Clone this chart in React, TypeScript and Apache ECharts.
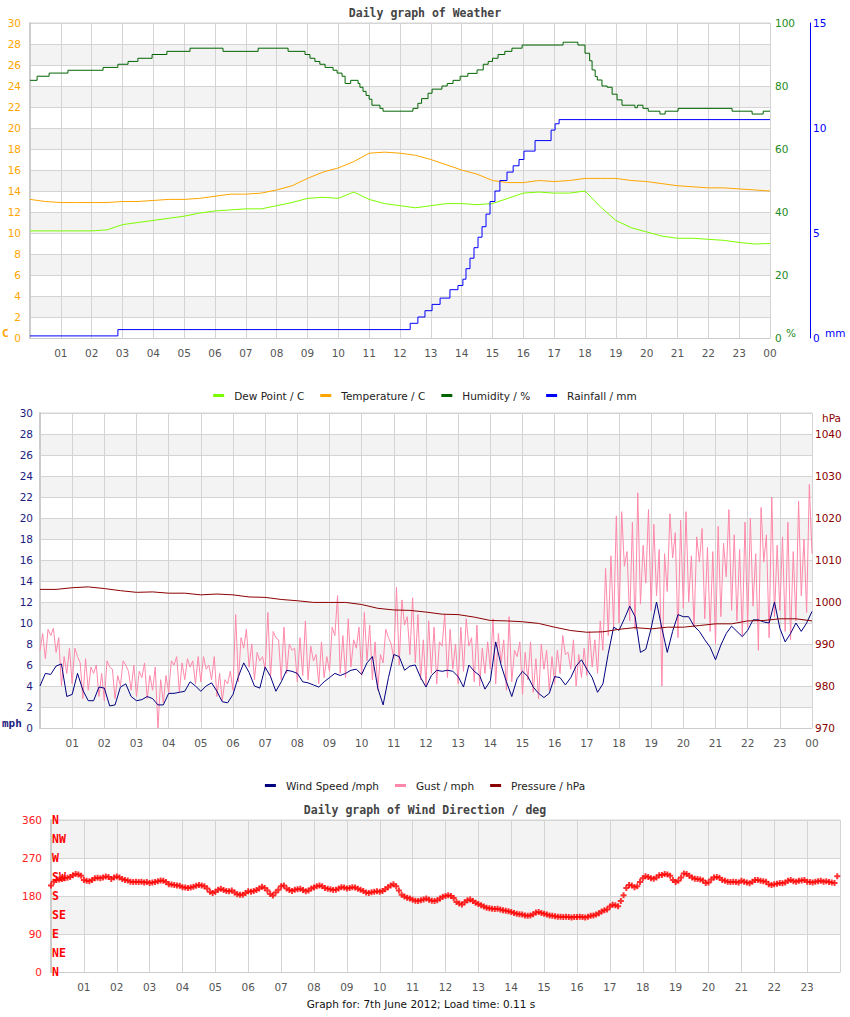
import React, { useEffect, useRef } from 'react';
import * as echarts from 'echarts';

// ---------- tick labels ----------
const HOUR_LABELS = ['01','02','03','04','05','06','07','08','09','10','11','12','13','14','15','16','17','18','19','20','21','22','23'];
const COMPASS = ['N','NE','E','SE','S','SW','W','NW','N'];

// ---------- panel 1 : weather (half-hour samples, 0..24h) ----------
const temperatureC = [13.2,13.0,12.9,12.9,12.9,12.9,13.0,13.0,13.1,13.2,13.2,13.3,13.5,13.7,13.7,13.8,14.1,14.5,15.2,15.8,16.2,16.8,17.6,17.7,17.6,17.4,17.0,16.5,16.0,15.6,15.0,14.8,14.8,15.0,14.9,15.0,15.2,15.2,15.2,15.0,14.9,14.7,14.5,14.4,14.3,14.3,14.2,14.1,14.0];
const dewPointC = [10.2,10.2,10.2,10.2,10.2,10.3,10.8,11.0,11.2,11.4,11.6,11.9,12.1,12.2,12.3,12.3,12.6,12.9,13.3,13.4,13.3,13.9,13.2,12.8,12.6,12.4,12.6,12.8,12.8,12.7,12.8,13.3,13.8,13.9,13.8,13.8,14.0,12.5,11.2,10.5,10.1,9.7,9.5,9.5,9.4,9.3,9.1,8.95,9.0];
// humidity: [hour of change, value]
const humiditySteps = [[0,81.8],[0.23,83.1],[0.62,84.1],[1.23,85.0],[2.37,85.9],[2.85,86.9],[3.18,87.8],[3.5,88.8],[3.96,90.0],[4.44,91.0],[5.19,92.0],[6.26,91.0],[7.4,92.0],[8.37,91.0],[8.92,90.0],[9.08,88.8],[9.24,87.8],[9.4,86.9],[9.57,85.9],[9.83,85.0],[9.96,84.1],[10.12,83.1],[10.22,80.8],[10.4,81.8],[10.64,80.8],[10.7,79.6],[10.8,78.3],[10.9,77.0],[11.0,75.8],[11.09,73.9],[11.35,72.9],[11.45,72.0],[12.42,72.9],[12.58,74.5],[12.7,76.0],[12.91,77.7],[13.04,79.0],[13.36,80.0],[13.53,80.8],[13.72,81.8],[13.95,83.1],[14.2,84.0],[14.5,85.1],[14.7,86.9],[14.86,87.8],[15.0,88.8],[15.18,90.0],[15.4,91.0],[15.63,92.0],[15.96,93.0],[17.29,93.9],[17.77,93.0],[18.0,90.4],[18.15,88.0],[18.23,85.1],[18.33,83.0],[18.4,81.9],[18.55,80.0],[18.72,79.6],[18.88,77.4],[19.04,75.6],[19.2,73.9],[19.62,73.1],[19.7,73.9],[19.88,72.9],[20.05,72.0],[20.43,71.1],[20.6,72.0],[21.02,72.9],[22.77,72.0],[23.42,71.1],[23.78,72.0],[24,72.0]];
// rainfall: [hour of change, cumulative mm]
const rainfallSteps = [[0,0.1],[2.85,0.4],[12.33,0.7],[12.58,1.0],[12.81,1.3],[13.04,1.6],[13.3,1.9],[13.62,2.3],[13.88,2.5],[14.04,2.8],[14.14,3.3],[14.27,3.8],[14.4,4.3],[14.53,4.8],[14.66,5.3],[14.79,5.9],[14.92,6.5],[15.08,7.0],[15.24,7.5],[15.47,7.9],[15.67,8.2],[15.86,8.5],[16.02,8.9],[16.38,9.4],[16.9,9.9],[17.03,10.2],[17.16,10.4],[24,10.4]];

// ---------- panel 2 : wind (10-min), gust (5-min), pressure (half-hour) ----------
const windMph = [4.0,5.2,5.1,5.9,6.1,3.0,3.2,5.2,3.6,2.6,2.6,3.9,3.8,2.1,2.2,3.9,4.2,3.0,2.6,2.7,3.0,2.8,2.2,2.2,3.3,3.3,3.4,3.5,4.4,4.0,3.5,4.0,4.3,3.5,2.5,2.4,3.2,4.9,6.2,5.3,4.0,3.8,5.8,4.9,3.5,4.4,5.5,5.4,5.2,4.4,4.3,4.1,3.9,4.4,4.8,5.2,5.0,5.2,5.5,5.6,5.1,6.2,6.8,3.8,2.2,4.8,7.0,6.8,5.5,5.9,6.0,4.8,
  3.9,5.0,5.5,5.4,5.5,5.4,4.9,3.9,6.0,5.4,5.0,3.7,4.5,8.2,6.0,4.4,3.0,4.7,5.4,4.9,3.9,3.3,2.9,3.3,4.9,4.8,4.1,4.8,5.9,6.5,5.6,4.8,3.4,4.2,7.1,9.6,9.3,10.4,11.6,10.6,7.2,7.5,9.5,12.0,9.5,7.2,9.2,10.8,10.6,10.6,9.7,9.2,8.4,7.7,6.5,7.9,9.0,9.7,9.2,8.7,9.3,10.3,10.3,10.1,10.0,12.0,9.5,8.2,9.0,10.0,9.2,10.0,11.1];
const gustMph = [
  7.4,9.0,6.6,9.4,8.8,9.5,7.2,8.6,4.0,6.8,5.2,7.6,
  4.2,7.6,6.8,6.2,2.8,6.6,3.6,5.8,5.2,6.0,3.0,5.2,
  2.6,6.4,5.8,5.6,2.8,5.0,4.0,6.4,6.0,5.4,3.6,6.0,
  3.0,5.4,4.8,6.2,2.8,5.0,3.6,5.8,0.0,4.6,2.4,5.0,
  3.4,6.4,6.0,6.8,3.4,6.2,4.6,6.6,5.8,6.4,4.2,6.8,
  4.4,6.8,5.6,6.0,4.6,6.8,3.0,5.2,2.6,4.6,4.2,5.4,
  3.6,10.8,4.4,8.6,7.6,9.4,5.8,8.0,4.6,7.2,6.4,6.8,
  5.6,11.0,4.8,9.2,8.6,8.4,4.6,9.6,5.2,8.0,7.4,7.6,
  4.4,8.6,5.0,10.2,4.6,7.8,6.4,7.0,4.2,8.2,4.8,6.8,
  5.4,9.6,8.8,12.6,5.2,8.8,4.8,10.4,5.8,8.4,7.6,9.6,
  5.0,11.0,6.4,9.8,4.6,8.2,3.6,7.0,6.2,9.4,8.6,8.0,
  6.6,13.4,6.0,12.2,9.8,10.6,7.0,12.4,6.2,10.8,4.6,8.4,
  4.0,10.2,5.2,9.6,4.2,8.2,7.8,10.8,4.8,9.4,5.6,8.0,
  4.2,9.6,5.4,10.4,7.8,8.6,4.4,9.8,4.0,7.6,5.2,8.2,
  5.6,10.4,4.2,9.0,6.2,8.4,3.6,10.6,4.4,7.4,6.8,8.2,
  3.2,7.2,4.6,8.2,3.4,6.6,2.8,8.0,5.6,7.4,3.6,6.8,
  4.2,7.4,5.2,8.8,7.0,7.2,5.6,8.4,4.0,7.0,4.8,7.6,
  5.0,9.2,5.8,8.4,5.2,10.2,7.4,15.2,8.8,16.4,9.6,20.2,
  10.0,20.6,15.4,16.8,10.2,19.6,9.4,22.4,11.8,17.4,13.8,20.8,
  11.2,19.4,12.6,17.0,4.0,16.6,13.0,20.4,16.2,18.6,8.6,19.8,
  11.4,20.6,12.0,16.4,9.6,18.2,15.8,19.0,10.4,17.2,9.2,16.8,
  8.0,19.2,10.6,17.6,14.4,20.8,11.2,18.4,10.2,17.0,8.8,19.6,
  9.6,20.0,11.6,16.6,7.4,21.0,15.8,18.4,8.6,22.0,10.6,17.4,
  11.2,18.2,9.2,19.6,8.4,16.8,10.2,21.6,12.6,18.0,11.0,23.2,
  16.6];
const pressureHpa = [1003.0,1003.0,1003.4,1003.6,1003.2,1002.7,1002.3,1002.4,1002.1,1002.1,1001.7,1001.9,1001.7,1001.2,1001.1,1000.6,1000.3,999.9,999.9,999.9,999.4,998.5,998.1,998.0,997.6,997.1,997.0,996.4,995.6,995.5,995.3,994.9,994.0,993.2,992.8,992.9,993.5,993.9,993.6,994.0,994.0,994.4,994.8,994.8,995.5,995.6,996.0,996.0,995.5];

// ---------- panel 3 : wind direction (5-min samples) ----------
const windDirDeg = [
  205,214,218,219,220,222,223,225,229,232,231,228,
  218,216,215,218,222,223,222,224,226,225,220,224,
  226,224,220,218,217,214,213,214,213,214,212,213,
  211,212,213,215,217,216,213,208,207,206,205,204,
  201,200,199,200,202,204,206,205,203,198,190,187,
  190,195,197,194,192,191,193,188,184,183,183,187,
  191,190,192,194,198,202,199,193,185,181,188,195,
  203,205,198,194,192,195,196,197,194,191,193,198,
  200,203,205,203,199,197,196,194,195,198,201,200,
  198,199,201,200,197,195,192,188,187,189,190,191,
  190,192,196,201,205,208,203,193,183,179,176,174,
  171,169,168,170,172,174,171,169,168,170,174,178,
  180,182,180,175,166,162,160,165,170,172,168,164,
  161,158,155,152,151,150,149,150,148,146,145,144,
  142,140,138,137,136,134,133,134,137,141,142,140,
  138,136,134,133,132,131,131,130,131,130,129,130,
  130,131,130,129,131,133,134,136,139,143,146,148,
  155,159,158,156,168,182,199,206,205,201,203,213,
  222,227,225,222,221,224,229,230,232,231,228,218,
  213,216,224,233,232,228,224,221,220,219,217,211,
  212,219,224,225,223,218,216,214,213,214,213,212,
  216,214,212,210,214,218,218,216,215,214,208,206,
  208,209,211,210,212,216,218,215,214,216,217,218,
  214,213,212,214,215,216,214,215,213,212,211,227];

const FONT = 'DejaVu Sans';
const MONO = 'DejaVu Sans Mono';
const GRIDLINE = '#d4d4d4';
const BAND = ['#ffffff', '#f3f3f3'];

const series = (arr: number[], stepHours: number) => arr.map((v, i) => [i * stepHours, v]);

function xAxisFor(gridIndex: number, showEnd: boolean) {
  return {
    type: 'value', gridIndex, min: 0, max: 24, interval: 1,
    axisLine: { show: true, lineStyle: { color: '#cccccc', width: 1 } },
    axisTick: { show: false },
    splitLine: { show: true, lineStyle: { color: GRIDLINE, width: 1 } },
    axisLabel: {
      margin: 9, color: '#555555', fontSize: 10.5, fontFamily: FONT,
      formatter: (v: number) => (v >= 1 && v <= 23 ? HOUR_LABELS[v - 1] : v === 24 && showEnd ? '00' : ''),
    },
  };
}

function leftAxis(gridIndex: number, max: number, interval: number, color: string, margin: number) {
  return {
    type: 'value', gridIndex, position: 'left', min: 0, max, interval,
    axisLine: { show: true, lineStyle: { color: '#cccccc', width: 2 } },
    axisTick: { show: false },
    splitLine: { show: true, lineStyle: { color: GRIDLINE, width: 1 } },
    splitArea: { show: true, areaStyle: { color: BAND } },
    axisLabel: { margin, color, fontSize: 10.5, fontFamily: FONT },
  };
}

function buildOption() {
  return {
    animation: false,
    backgroundColor: '#ffffff',
    grid: [
      { left: 30, top: 23, width: 740, height: 315, show: true, borderColor: GRIDLINE, borderWidth: 1 },
      { left: 40, top: 413, width: 772, height: 315, show: true, borderColor: GRIDLINE, borderWidth: 1 },
      { left: 51, top: 820, width: 789, height: 152, show: true, borderColor: GRIDLINE, borderWidth: 1 },
    ],
    xAxis: [xAxisFor(0, true), xAxisFor(1, true), xAxisFor(2, false)],
    yAxis: [
      leftAxis(0, 30, 2, '#FFA500', 9),
      {
        type: 'value', gridIndex: 0, position: 'right', min: 0, max: 100, interval: 20,
        axisLine: { show: false }, axisTick: { show: false }, splitLine: { show: false },
        axisLabel: { margin: 5, color: '#228B22', fontSize: 10.5, fontFamily: FONT },
      },
      {
        type: 'value', gridIndex: 0, position: 'right', offset: 40, min: 0, max: 15, interval: 5,
        axisLine: { show: true, lineStyle: { color: '#0000FF', width: 1 } }, axisTick: { show: false }, splitLine: { show: false },
        axisLabel: { margin: 3, color: '#0000FF', fontSize: 10.5, fontFamily: FONT },
      },
      leftAxis(1, 30, 2, '#1c1c80', 7),
      {
        type: 'value', gridIndex: 1, position: 'right', min: 970, max: 1045, interval: 10,
        axisLine: { show: false }, axisTick: { show: false }, splitLine: { show: false },
        axisLabel: {
          margin: 3, color: '#8B0000', fontSize: 10.5, fontFamily: FONT,
          formatter: (v: number) => (v % 10 === 0 ? String(v) : ''),
        },
      },
      leftAxis(2, 360, 90, '#FF2020', 9),
      {
        type: 'value', gridIndex: 2, position: 'left', min: 0, max: 360, interval: 45,
        axisLine: { show: false }, axisTick: { show: false }, splitLine: { show: false }, splitArea: { show: false },
        axisLabel: {
          inside: true, margin: 1, color: '#FF0000', fontSize: 11.5, fontWeight: 'bold', fontFamily: MONO,
          formatter: (v: number) => COMPASS[Math.round(v / 45)] || '',
        },
      },
    ],
    legend: [
      {
        data: ['Dew Point / C', 'Temperature / C', 'Humidity / %', 'Rainfall / mm'],
        top: 385, left: 'center', icon: 'rect', itemWidth: 11, itemHeight: 3, itemGap: 16, selectedMode: false,
        textStyle: { fontSize: 10.5, fontFamily: FONT, color: '#222222', padding: [0, 0, 0, 5] },
      },
      {
        data: ['Wind Speed /mph', 'Gust / mph', 'Pressure / hPa'],
        top: 775, left: 'center', icon: 'rect', itemWidth: 11, itemHeight: 3, itemGap: 16, selectedMode: false,
        textStyle: { fontSize: 10.5, fontFamily: FONT, color: '#222222', padding: [0, 0, 0, 5] },
      },
    ],
    graphic: [
      { type: 'text', x: 425, y: 13, style: { text: 'Daily graph of Weather', fill: '#444444', font: `bold 11.5px "${MONO}"`, textAlign: 'center', textVerticalAlign: 'middle' } },
      { type: 'text', x: 2, y: 333, style: { text: 'C', fill: '#FFA500', font: `bold 11px "${MONO}"`, textAlign: 'left', textVerticalAlign: 'middle' } },
      { type: 'text', x: 786, y: 333, style: { text: '%', fill: '#228B22', font: `10.5px "${FONT}"`, textAlign: 'left', textVerticalAlign: 'middle' } },
      { type: 'text', x: 825, y: 333, style: { text: 'mm', fill: '#0000FF', font: `10.5px "${FONT}"`, textAlign: 'left', textVerticalAlign: 'middle' } },
      { type: 'text', x: 2, y: 723, style: { text: 'mph', fill: '#1c1c80', font: `bold 11px "${MONO}"`, textAlign: 'left', textVerticalAlign: 'middle' } },
      { type: 'text', x: 822, y: 418, style: { text: 'hPa', fill: '#8B0000', font: `10.5px "${FONT}"`, textAlign: 'left', textVerticalAlign: 'middle' } },
      { type: 'text', x: 425, y: 810, style: { text: 'Daily graph of Wind Direction / deg', fill: '#444444', font: `bold 11.5px "${MONO}"`, textAlign: 'center', textVerticalAlign: 'middle' } },
      { type: 'text', x: 421, y: 1004, style: { text: 'Graph for: 7th June 2012; Load time: 0.11 s', fill: '#111111', font: `10.5px "${FONT}"`, textAlign: 'center', textVerticalAlign: 'middle' } },
    ],
    series: [
      { name: 'Dew Point / C', type: 'line', xAxisIndex: 0, yAxisIndex: 0, data: series(dewPointC, 0.5), showSymbol: false, color: '#7CFC00', lineStyle: { width: 1, color: '#7CFC00' }, silent: true },
      { name: 'Temperature / C', type: 'line', xAxisIndex: 0, yAxisIndex: 0, data: series(temperatureC, 0.5), showSymbol: false, color: '#FFA500', lineStyle: { width: 1, color: '#FFA500' }, silent: true },
      { name: 'Humidity / %', type: 'line', step: 'end', xAxisIndex: 0, yAxisIndex: 1, data: humiditySteps, showSymbol: false, color: '#006400', lineStyle: { width: 1, color: '#006400' }, silent: true },
      { name: 'Rainfall / mm', type: 'line', step: 'end', xAxisIndex: 0, yAxisIndex: 2, data: rainfallSteps, showSymbol: false, color: '#0000FF', lineStyle: { width: 1, color: '#0000FF' }, silent: true },
      { name: 'Gust / mph', type: 'line', xAxisIndex: 1, yAxisIndex: 3, data: series(gustMph, 1 / 12), showSymbol: false, color: '#FF88AA', lineStyle: { width: 1, color: '#FF88AA' }, silent: true },
      { name: 'Wind Speed /mph', type: 'line', xAxisIndex: 1, yAxisIndex: 3, data: series(windMph, 1 / 6), showSymbol: false, color: '#000080', lineStyle: { width: 1, color: '#000080' }, silent: true },
      { name: 'Pressure / hPa', type: 'line', xAxisIndex: 1, yAxisIndex: 4, data: series(pressureHpa, 0.5), showSymbol: false, color: '#8B0000', lineStyle: { width: 1, color: '#8B0000' }, silent: true },
      {
        name: 'Wind Direction', type: 'scatter', xAxisIndex: 2, yAxisIndex: 5, data: series(windDirDeg, 1 / 12),
        symbol: 'path://M2,0h2v2h2v2h-2v2h-2v-2h-2v-2h2z', symbolSize: 6, itemStyle: { color: '#FF0000' }, silent: true,
      },
    ],
  };
}

export default function App() {
  const ref = useRef<HTMLDivElement>(null);
  useEffect(() => {
    if (!ref.current) return;
    const chart = echarts.init(ref.current, null, { renderer: 'svg' });
    chart.setOption(buildOption() as any);
    return () => chart.dispose();
  }, []);
  return <div ref={ref} style={{ position: 'absolute', left: 0, top: 0, width: 850, height: 1017 }} />;
}
